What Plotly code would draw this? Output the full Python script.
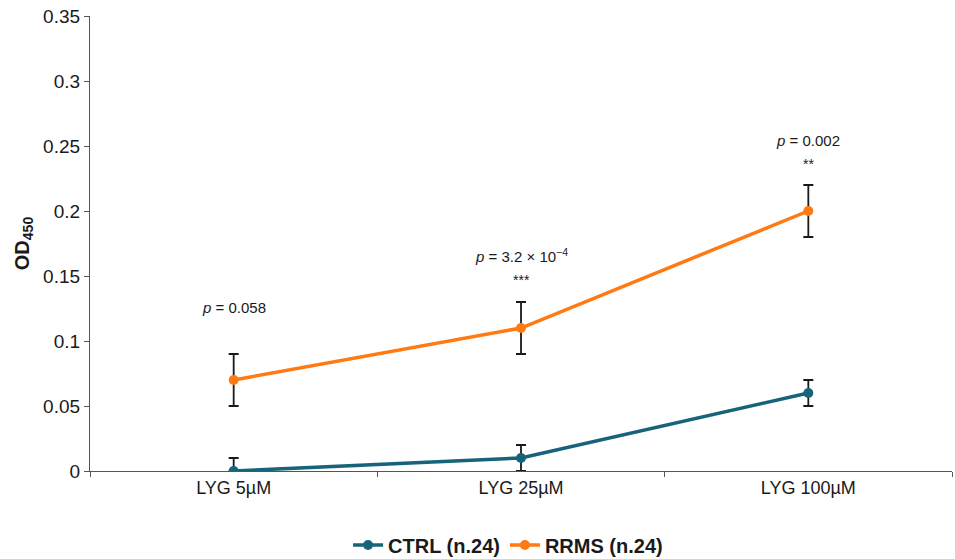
import plotly.graph_objects as go

# Concentrations tested
categories = ["LYG 5µM", "LYG 25µM", "LYG 100µM"]

# Mean OD450 and error-bar extents per group
ctrl_mean = [0.0, 0.01, 0.06]
ctrl_err_up = [0.01, 0.01, 0.01]
ctrl_err_down = [0.0, 0.01, 0.01]

rrms_mean = [0.07, 0.11, 0.20]
rrms_err_up = [0.02, 0.02, 0.02]
rrms_err_down = [0.02, 0.02, 0.02]

# Significance labels above each concentration
p_labels = ["<i>p</i> = 0.058", "<i>p</i> = 3.2 × 10<sup>−4</sup>", "<i>p</i> = 0.002"]
p_label_y = [0.126, 0.166, 0.254]
stars = ["", "***", "**"]
stars_y = [None, 0.147, 0.236]

y_ticks = [0, 0.05, 0.1, 0.15, 0.2, 0.25, 0.3, 0.35]
y_tick_text = ["0", "0.05", "0.1", "0.15", "0.2", "0.25", "0.3", "0.35"]

TEAL = "#17647A"
ORANGE = "#FF7A12"
FONT = "Liberation Sans, Arial, sans-serif"

fig = go.Figure()

fig.add_trace(go.Scatter(
    x=categories, y=ctrl_mean, mode="lines+markers", name="<b>CTRL (n.24)</b>",
    line=dict(color=TEAL, width=3.5), marker=dict(color=TEAL, size=10),
    error_y=dict(type="data", symmetric=False, array=ctrl_err_up,
                 arrayminus=ctrl_err_down, color="#1a1a1a", thickness=1.8, width=5),
))
fig.add_trace(go.Scatter(
    x=categories, y=rrms_mean, mode="lines+markers", name="<b>RRMS (n.24)</b>",
    line=dict(color=ORANGE, width=3.5), marker=dict(color=ORANGE, size=10),
    error_y=dict(type="data", symmetric=False, array=rrms_err_up,
                 arrayminus=rrms_err_down, color="#1a1a1a", thickness=1.8, width=5),
))

for cat, txt, yy in zip(categories, p_labels, p_label_y):
    fig.add_annotation(x=cat, y=yy, text=txt, showarrow=False,
                       font=dict(family=FONT, size=15, color="#1a1a1a"))
for cat, txt, yy in zip(categories, stars, stars_y):
    if txt:
        fig.add_annotation(x=cat, y=yy, text=txt, showarrow=False,
                           font=dict(family=FONT, size=14, color="#1a1a1a"))

fig.update_layout(
    width=955, height=559,
    margin=dict(l=90, r=3, t=16, b=88),
    paper_bgcolor="white", plot_bgcolor="white",
    font=dict(family=FONT, size=18, color="#1a1a1a"),
    showlegend=True,
    legend=dict(orientation="h", x=0.485, xref="paper", xanchor="center",
                y=0.025, yref="container", yanchor="middle",
                font=dict(family=FONT, size=20, color="#1a1a1a"),
                traceorder="normal", tracegroupgap=0),
    xaxis=dict(
        type="category", range=[-0.5, 2.5], tickson="boundaries",
        showline=True, linecolor="#555555", linewidth=1.2,
        ticks="outside", ticklen=5, tickcolor="#555555",
        showgrid=False, zeroline=False,
        tickfont=dict(family=FONT, size=18, color="#1a1a1a"),
    ),
    yaxis=dict(
        range=[0, 0.35], tickvals=y_ticks, ticktext=y_tick_text,
        showline=True, linecolor="#555555", linewidth=1.2,
        ticks="outside", ticklen=5, tickcolor="#555555",
        showgrid=False, zeroline=False,
        tickfont=dict(family=FONT, size=19, color="#1a1a1a"),
        title=dict(text="<b>OD<sub>450</sub></b>", standoff=8,
                   font=dict(family=FONT, size=20, color="#1a1a1a")),
    ),
)

fig.write_html("out.html")
